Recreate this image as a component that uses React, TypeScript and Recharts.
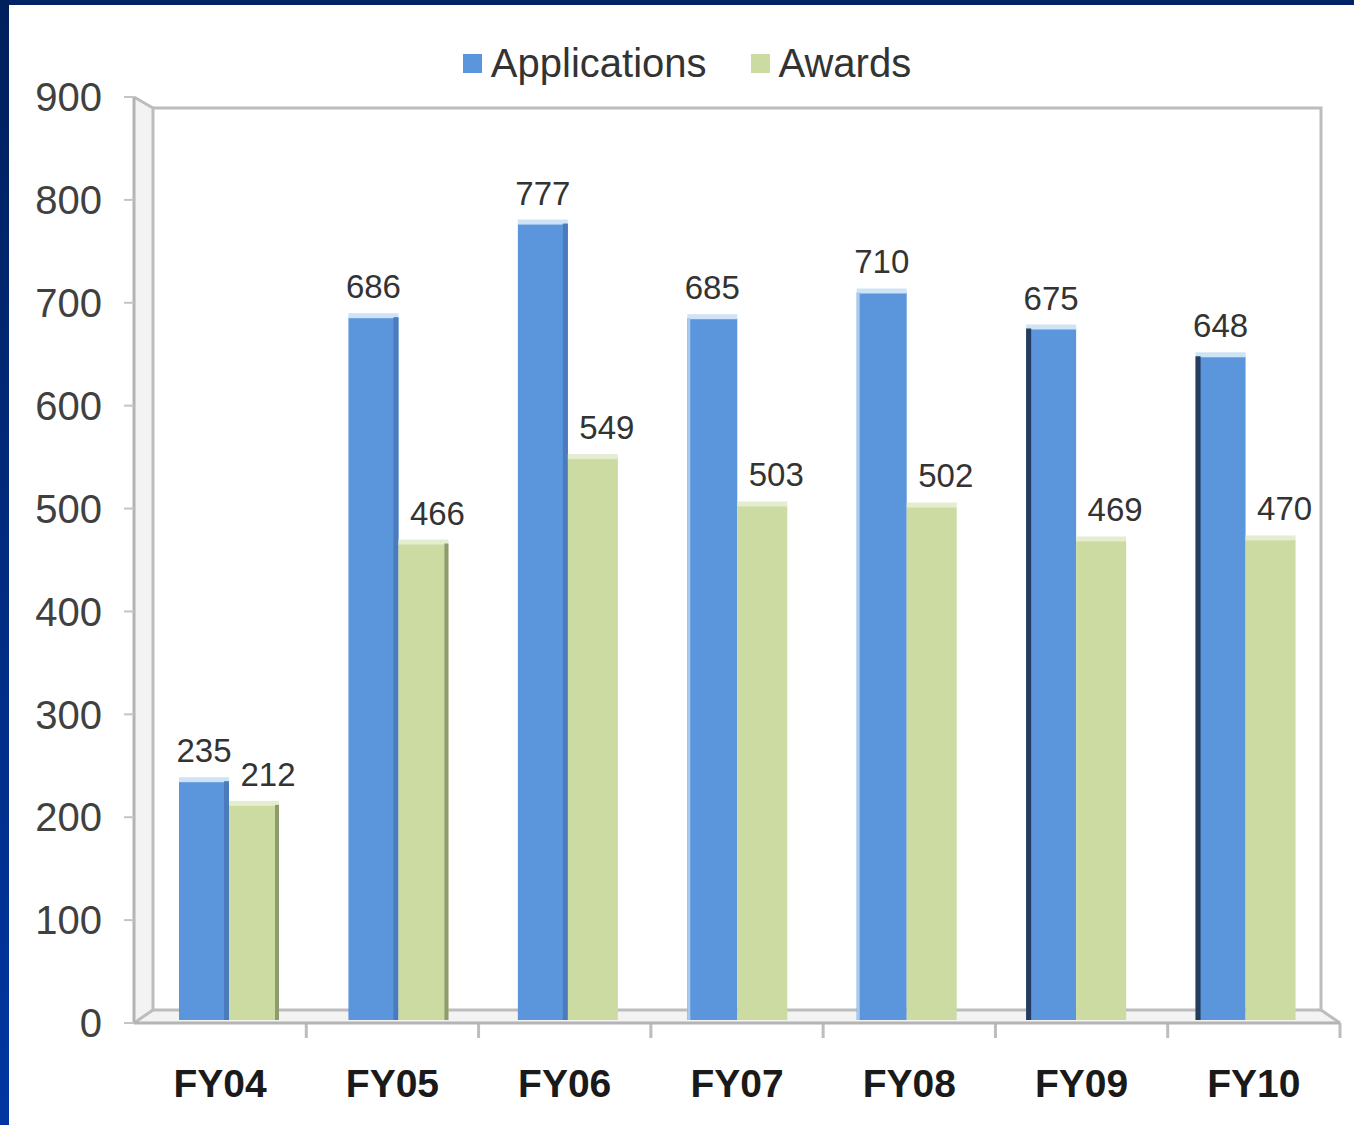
import { BarChart, Bar, XAxis, YAxis, Legend, LabelList } from 'recharts';

const categories = ['FY04', 'FY05', 'FY06', 'FY07', 'FY08', 'FY09', 'FY10'];
const applications = [235, 686, 777, 685, 710, 675, 648];
const awards = [212, 466, 549, 503, 502, 469, 470];
const yTicks = [0, 100, 200, 300, 400, 500, 600, 700, 800, 900];

const W = 1354;
const H = 1125;
const FONT = '"Liberation Sans", Arial, sans-serif';
const BLUE = '#5b96dc';
const GREEN = '#cbdba1';

// plot area (front plane of the 3d box)
const LEFT = 134;
const RIGHT = 1340;
const TOP = 97;
const BOTTOM = 1023;
const DX = 19;
const DY = 13;

const data = categories.map((name, i) => ({
  name,
  Applications: applications[i],
  Awards: awards[i],
}));

function BlueBar(props: any) {
  const { x, y, width, height, index } = props;
  if (!height) return null;
  return (
    <g>
      <rect x={x} y={y} width={width} height={height - 3} fill={BLUE} />
      <rect x={x} y={y - 4} width={width} height={5} fill="#cfe3f6" />
      {index <= 2 && <rect x={x + width - 5} y={y} width={5} height={height - 3} fill="#4a7bbd" />}
      {index >= 5 && <rect x={x} y={y} width={5} height={height - 3} fill="#253c5e" />}
      {index >= 3 && index <= 4 && <rect x={x} y={y} width={3} height={height - 3} fill="#a9c9ee" />}
    </g>
  );
}

function GreenBar(props: any) {
  const { x, y, width, height, index } = props;
  if (!height) return null;
  return (
    <g>
      <rect x={x} y={y} width={width} height={height - 3} fill={GREEN} />
      <rect x={x} y={y - 4} width={width} height={5} fill="#e5edd0" />
      {index <= 1 && <rect x={x + width - 4} y={y} width={4} height={height - 3} fill="#8e9b6d" />}
    </g>
  );
}

const valueLabel = (shift: number) => (props: any) => {
  const { x, y, width, value } = props;
  return (
    <text
      x={x + width / 2 + shift}
      y={y - 19}
      textAnchor="middle"
      fontFamily={FONT}
      fontSize={33}
      fill="#333"
    >
      {value}
    </text>
  );
};

function LegendBox() {
  const items = [
    { label: 'Applications', color: BLUE },
    { label: 'Awards', color: GREEN },
  ];
  return (
    <div
      style={{
        height: 67,
        display: 'flex',
        justifyContent: 'center',
        alignItems: 'center',
        gap: 44,
        fontFamily: FONT,
        fontSize: 40,
        color: '#333',
      }}
    >
      {items.map((it) => (
        <div key={it.label} style={{ display: 'flex', alignItems: 'center' }}>
          <span style={{ width: 19, height: 19, background: it.color, marginRight: 9 }} />
          <span>{it.label}</span>
        </div>
      ))}
    </div>
  );
}

function Box3d() {
  const band = (RIGHT - LEFT) / categories.length;
  const wall = '#bdbdbd';
  return (
    <svg width={W} height={H} style={{ position: 'absolute', left: 0, top: 0 }}>
      <polygon
        points={`${LEFT},${TOP} ${LEFT + DX},${TOP + 11} ${LEFT + DX},${BOTTOM - DY} ${LEFT},${BOTTOM}`}
        fill="#f3f3f3"
      />
      <polygon
        points={`${LEFT},${BOTTOM} ${LEFT + DX},${BOTTOM - DY} ${RIGHT - DX},${BOTTOM - DY} ${RIGHT},${BOTTOM}`}
        fill="#f3f3f3"
      />
      <g stroke={wall} strokeWidth={3} fill="none">
        <polyline
          points={`${LEFT + DX},${BOTTOM - DY} ${LEFT + DX},${TOP + 11} ${RIGHT - DX},${TOP + 11} ${RIGHT - DX},${BOTTOM - DY} ${LEFT + DX},${BOTTOM - DY}`}
        />
        <line x1={LEFT} y1={TOP} x2={LEFT + DX} y2={TOP + 11} />
        <line x1={LEFT} y1={BOTTOM} x2={LEFT + DX} y2={BOTTOM - DY} />
        <line x1={RIGHT - DX} y1={BOTTOM - DY} x2={RIGHT} y2={BOTTOM} />
        {categories.map((c, i) => (
          <line key={c} x1={LEFT + band * (i + 1)} y1={BOTTOM} x2={LEFT + band * (i + 1)} y2={BOTTOM + 15} />
        ))}
      </g>
    </svg>
  );
}

export default function App() {
  return (
    <div style={{ position: 'absolute', left: 0, top: 0, width: W, height: H, background: '#fff', overflow: 'hidden' }}>
      <Box3d />
      <div style={{ position: 'absolute', left: 0, top: 0 }}>
        <BarChart
          width={W}
          height={H}
          data={data}
          barSize={50}
          barGap={0}
          margin={{ top: 30, right: W - RIGHT, left: LEFT - 100, bottom: H - BOTTOM - 80 }}
        >
          <Legend verticalAlign="top" align="center" content={() => <LegendBox />} />
          <XAxis
            xAxisId="front"
            dataKey="name"
            height={80}
            tickLine={false}
            tickSize={0}
            tickMargin={46}
            axisLine={{ stroke: '#b4b4b4', strokeWidth: 3 }}
            tick={{ fontSize: 39, fontWeight: 'bold', fill: '#1a1a1a', fontFamily: FONT }}
          />
          {/* bars sit at mid depth of the box, slightly narrower than the front axis */}
          <XAxis xAxisId="bars" dataKey="name" hide height={0} padding={{ left: 10, right: 10 }} />
          <YAxis
            width={100}
            domain={[0, 900]}
            ticks={yTicks}
            interval={0}
            tickSize={10}
            tickMargin={22}
            axisLine={{ stroke: '#b4b4b4', strokeWidth: 3 }}
            tickLine={{ stroke: '#c4c4c4', strokeWidth: 2 }}
            tick={{ fontSize: 40, fill: '#404040', fontFamily: FONT }}
          />
          <Bar xAxisId="bars" dataKey="Applications" fill={BLUE} shape={BlueBar} isAnimationActive={false}>
            <LabelList dataKey="Applications" content={valueLabel(0)} />
          </Bar>
          <Bar xAxisId="bars" dataKey="Awards" fill={GREEN} shape={GreenBar} isAnimationActive={false}>
            <LabelList dataKey="Awards" content={valueLabel(14)} />
          </Bar>
        </BarChart>
      </div>
      <div style={{ position: 'absolute', left: 0, top: 0, width: W, height: 5, background: '#002266' }} />
      <div
        style={{
          position: 'absolute',
          left: 0,
          top: 0,
          width: 9,
          height: H,
          background: 'linear-gradient(to bottom, #00205c, #0036a2)',
        }}
      />
    </div>
  );
}
